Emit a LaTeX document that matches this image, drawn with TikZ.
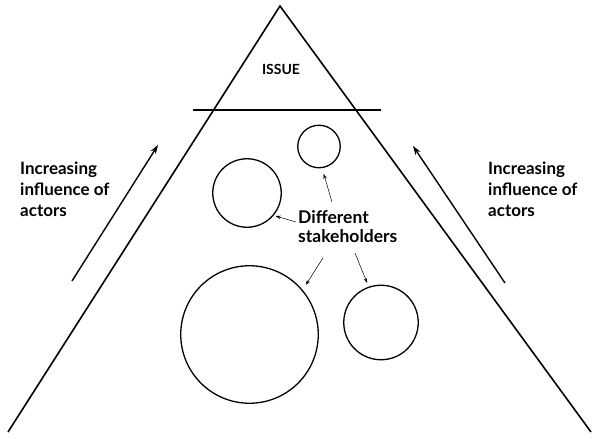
\documentclass[tikz,border=0pt]{standalone}
\usepackage{fontspec}
\setmainfont{Lato}
\usetikzlibrary{arrows.meta}

\begin{document}
\begin{tikzpicture}[x=1pt, y=-1pt,
		stakeholder/.style = {shape=circle, draw, line width=1.3pt, inner sep=0pt},
		label/.style = {align=left, anchor=north west, inner sep=0pt,
			font=\fontsize{17}{21}\selectfont\bfseries},
		pointer/.style = {-{Stealth[length=5pt,width=3.5pt]}, line width=0.5pt},
		influence/.style = {-{Stealth[length=9pt,width=6pt]}, line width=1.4pt}]
	\useasboundingbox (0,0) rectangle (598,439);
	% pyramid and the issue at its top
	\coordinate (apex) at (280,6);
	\coordinate (leftfoot) at (8,432);
	\coordinate (rightfoot) at (591,432);
	\draw[line width=1.6pt] (leftfoot) -- (apex) -- (rightfoot);
	\draw[line width=1.6pt] (193,110) -- (381,110);
	\node[font=\fontsize{14}{16}\selectfont\bfseries] (issue) at (281,69.5) {ISSUE};
	% stakeholders
	\node[stakeholder, minimum size=42.5pt] (ctop) at (319,146.5) {};
	\node[stakeholder, minimum size=68.5pt] (cleft) at (247,193) {};
	\node[stakeholder, minimum size=137.5pt] (cbig) at (249.5,334.5) {};
	\node[stakeholder, minimum size=74.5pt] (cright) at (381,322.5) {};
	\node[label, font=\fontsize{17.5}{19.5}\selectfont\bfseries] (stake) at (298,210) {Different\\stakeholders};
	\coordinate (ptop) at (332,202);
	\coordinate (pleft) at (296,222);
	\coordinate (pbig) at (323,258);
	\coordinate (pright) at (355,253);
	\draw[pointer, shorten >=6pt] (ptop) -- (ctop.-82);
	\draw[pointer, shorten >=2pt] (pleft) -- (cleft.-40);
	\draw[pointer, shorten >=6pt] (pbig) -- (cbig.40);
	\draw[pointer, shorten >=4pt] (pright) -- (cright.109);
	% influence of actors
	\node[label] (infleft) at (20,161.5) {Increasing\\influence of\\actors};
	\node[label] (infright) at (488,161.5) {Increasing\\influence of\\actors};
	\coordinate (lowleft) at (72,281);
	\coordinate (highleft) at (158,145);
	\coordinate (lowright) at (505,283);
	\coordinate (highright) at (413,146);
	\draw[influence] (lowleft) -- (highleft);
	\draw[influence] (lowright) -- (highright);
\end{tikzpicture}
\end{document}
